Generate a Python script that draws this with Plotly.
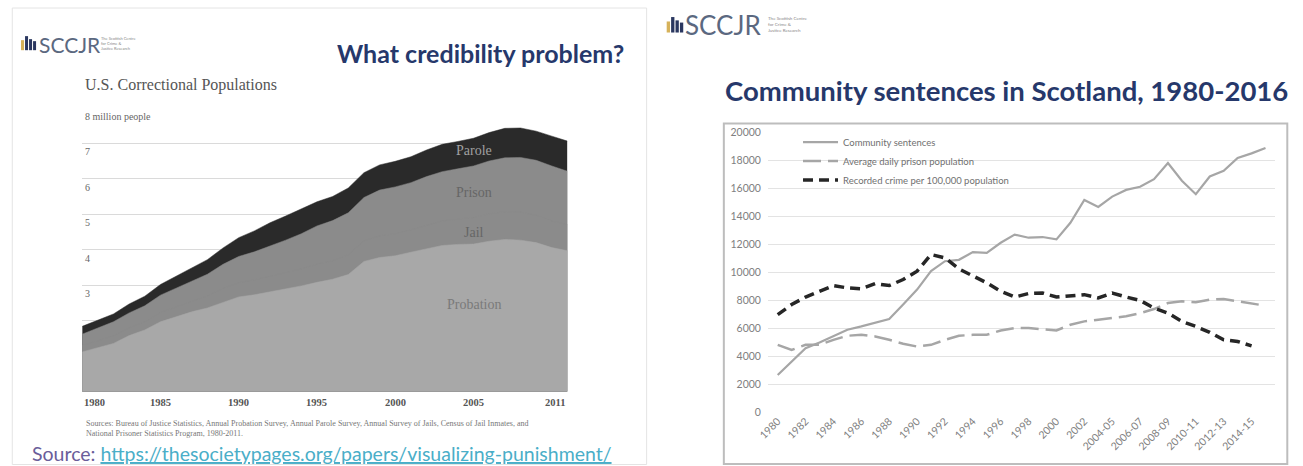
import plotly.graph_objects as go

W, H = 1303, 466
# map reference-image pixel positions to paper fractions (calibrated against the rendered page)
def px(x): return ((x - 12) / 0.989) / W
def py(y): return 1 - ((y - 6) / 0.97) / H

# ---------------- Left chart data (millions) ----------------
years = list(range(1980, 2012))
probation = [1.12, 1.23, 1.36, 1.58, 1.74, 1.97, 2.12, 2.25, 2.36, 2.52, 2.67, 2.73, 2.81, 2.90, 2.98, 3.08,
             3.17, 3.30, 3.67, 3.78, 3.83, 3.93, 4.02, 4.12, 4.15, 4.16, 4.24, 4.29, 4.27, 4.20, 4.06, 3.97]
jail = [0.18, 0.20, 0.21, 0.22, 0.23, 0.26, 0.27, 0.30, 0.34, 0.39, 0.40, 0.42, 0.44, 0.46, 0.48, 0.51,
        0.52, 0.56, 0.58, 0.61, 0.62, 0.63, 0.67, 0.69, 0.71, 0.75, 0.77, 0.78, 0.79, 0.77, 0.75, 0.74]
prison = [0.32, 0.36, 0.40, 0.42, 0.45, 0.49, 0.53, 0.56, 0.61, 0.68, 0.74, 0.79, 0.85, 0.91, 0.99, 1.08,
          1.13, 1.18, 1.22, 1.29, 1.32, 1.33, 1.37, 1.39, 1.42, 1.45, 1.49, 1.52, 1.54, 1.55, 1.55, 1.50]
parole = [0.22, 0.23, 0.22, 0.25, 0.27, 0.30, 0.33, 0.36, 0.41, 0.46, 0.53, 0.59, 0.66, 0.68, 0.69, 0.68,
          0.68, 0.70, 0.70, 0.71, 0.72, 0.73, 0.75, 0.77, 0.77, 0.78, 0.80, 0.83, 0.83, 0.82, 0.84, 0.85]
left_xticks = [1980, 1985, 1990, 1995, 2000, 2005, 2011]
left_ytick_vals = [8, 7, 6, 5, 4, 3]
left_ytick_text = ["8 million people", "7", "6", "5", "4", "3"]
area_names = ["Probation", "Jail", "Prison", "Parole"]
area_label_pos = [(2005, 2.45), (2005, 4.48), (2005, 5.62), (2005, 6.8)]

# ---------------- Right chart data ----------------
categories = [str(y) for y in range(1980, 2004)] + [f"{y}-{str(y + 1)[2:]}" for y in range(2004, 2016)]
community = [2670, 3620, 4580, 4990, 5470, 5900, 6140, 6380, 6670, 7700, 8770, 10090, 10800, 10900,
             11450, 11400, 12120, 12700, 12480, 12530, 12360, 13550, 15180, 14680, 15420, 15900, 16120,
             16670, 17820, 16550, 15590, 16860, 17270, 18180, 18510, 18900]
prison_pop = [4820, 4460, 4820, 4820, 5180, 5470, 5540, 5420, 5180, 4900, 4700, 4820, 5180, 5470,
              5540, 5540, 5850, 6020, 6020, 5950, 5850, 6260, 6500, 6620, 6730, 6860, 7090, 7380,
              7810, 7930, 7860, 8050, 8100, 7930, 7770, 7620]
crime = [6980, 7700, 8240, 8650, 9060, 8890, 8820, 9200, 9060, 9490, 10090, 11280, 11040, 10250,
         9730, 9250, 8650, 8240, 8490, 8530, 8240, 8340, 8410, 8170, 8530, 8240, 8000, 7450, 7090,
         6500, 6140, 5710, 5180, 5060, 4750, None]
series_names = ["Community sentences", "Average daily prison population",
                "Recorded crime per 100,000 population"]
right_tick_idx = list(range(0, 35, 2))

fig = go.Figure()

# stacked areas: cumulative tops, drawn top-most first so each lower layer covers the one above
layers = [probation, jail, prison, parole]
cum = []
run = [0.0] * len(years)
for vals in layers:
    run = [a + b for a, b in zip(run, vals)]
    cum.append(run)
area_colors = ["rgb(168,168,168)", "rgb(139,139,139)", "rgb(139,139,139)", "rgb(42,42,42)"]
for name, tops, col in reversed(list(zip(area_names, cum, area_colors))):
    fig.add_trace(go.Scatter(x=years, y=tops, name=name, fill="tozeroy", mode="lines",
                             line=dict(width=0.5, color=col), fillcolor=col, showlegend=False,
                             xaxis="x", yaxis="y"))

idx = list(range(len(categories)))
fig.add_trace(go.Scatter(x=idx, y=community, name=series_names[0], mode="lines",
                         line=dict(color="#a6a6a6", width=2.2), xaxis="x2", yaxis="y2"))
fig.add_trace(go.Scatter(x=idx, y=prison_pop, name=series_names[1], mode="lines",
                         line=dict(color="#a6a6a6", width=2.5, dash="18px,7px"), xaxis="x2", yaxis="y2"))
fig.add_trace(go.Scatter(x=idx, y=crime, name=series_names[2], mode="lines",
                         line=dict(color="#262626", width=3.5, dash="10px,6px"), xaxis="x2", yaxis="y2"))

ann = []
SERIF = "Liberation Serif, Times New Roman, serif"
SANS = "Lato, Open Sans, sans-serif"
for v, t in zip(left_ytick_vals, left_ytick_text):
    ann.append(dict(x=1980, y=v, xref="x", yref="y", text=t, showarrow=False, xanchor="left",
                    yanchor="top", xshift=1, yshift=-1, font=dict(family=SERIF, size=10, color="#666")))
for yv in left_xticks:
    anchor = "left" if yv == left_xticks[0] else ("right" if yv == left_xticks[-1] else "center")
    ann.append(dict(x=yv, y=0, xref="x", yref="y", text=f"<b>{yv}</b>", showarrow=False, xanchor=anchor,
                    yanchor="top", yshift=-3, font=dict(family=SERIF, size=10.5, color="#555")))
label_cols = ["#7a7a7a", "#666", "#666", "#a0a0a0"]
for name, (xx, yy), c in zip(area_names, area_label_pos, label_cols):
    ann.append(dict(x=xx, y=yy, xref="x", yref="y", text=name, showarrow=False,
                    font=dict(family=SERIF, size=14, color=c)))

ann += [
    dict(x=px(84), y=py(85), xref="paper", yref="paper", text="U.S. Correctional Populations",
         showarrow=False, xanchor="left", yanchor="middle", font=dict(family=SERIF, size=16, color="#555")),
    dict(x=px(625), y=py(53), xref="paper", yref="paper", text="<b>What credibility problem?</b>",
         showarrow=False, xanchor="right", yanchor="middle", font=dict(family=SANS, size=25, color="#26386b")),
    dict(x=px(85), y=py(427), xref="paper", yref="paper", align="left",
         text="Sources: Bureau of Justice Statistics, Annual Probation Survey, Annual Parole Survey, Annual Survey of Jails, Census of Jail Inmates, and<br>National Prisoner Statistics Program, 1980-2011.",
         showarrow=False, xanchor="left", yanchor="middle", font=dict(family=SERIF, size=8, color="#777")),
    dict(x=px(31), y=py(452), xref="paper", yref="paper",
         text="<span style='color:#6a5d9a'>Source: </span><span style='color:#4aaec8'><u>https://thesocietypages.org/papers/visualizing-punishment/</u></span>",
         showarrow=False, xanchor="left", yanchor="middle", font=dict(family=SANS, size=19.5)),
    dict(x=px(722), y=py(90), xref="paper", yref="paper", text="<b>Community sentences in Scotland, 1980-2016</b>",
         showarrow=False, xanchor="left", yanchor="middle", font=dict(family=SANS, size=27.5, color="#26386b")),
    dict(x=px(38), y=py(44), xref="paper", yref="paper", text="SCCJR", showarrow=False, xanchor="left",
         yanchor="middle", font=dict(family=SANS, size=21, color="#5b6880")),
    dict(x=px(100), y=py(43), xref="paper", yref="paper",
         text="The Scottish Centre<br>for Crime &<br>Justice Research", align="left", showarrow=False,
         xanchor="left", yanchor="middle", font=dict(family=SANS, size=4, color="#888")),
    dict(x=px(682), y=py(25), xref="paper", yref="paper", text="SCCJR", showarrow=False, xanchor="left",
         yanchor="middle", font=dict(family=SANS, size=26, color="#5b6880")),
    dict(x=px(765), y=py(24), xref="paper", yref="paper",
         text="The Scottish Centre<br>for Crime &<br>Justice Research", align="left", showarrow=False,
         xanchor="left", yanchor="middle", font=dict(family=SANS, size=4.5, color="#888")),
]

shapes = [
    dict(type="rect", xref="paper", yref="paper", x0=0.001, x1=px(646), y0=-0.01, y1=py(8),
         line=dict(color="#e4e4e4", width=1), layer="below"),
    dict(type="rect", xref="paper", yref="paper", x0=px(723), x1=px(1285), y0=py(462), y1=py(123),
         line=dict(color="#bdbdbd", width=2), layer="below"),
]
def icon(x0, y0, s):
    out = []
    bars = [(0, 4, 3, "#d6b25a"), (4, 0, 3, "#2a3760"), (8, 3, 3, "#2a3760"), (12, 5, 3, "#2a3760")]
    for dx, dy, w, c in bars:
        out.append(dict(type="rect", xref="paper", yref="paper", x0=px(x0 + dx * s), x1=px(x0 + (dx + w) * s),
                        y0=py(y0 + 14 * s), y1=py(y0 + dy * s), line=dict(width=0), fillcolor=c))
    return out
shapes += icon(22, 36, 1.0) + icon(666, 17, 1.1)

fig.update_layout(
    width=W, height=H, margin=dict(l=0, r=0, t=0, b=0), paper_bgcolor="white", plot_bgcolor="rgba(0,0,0,0)",
    annotations=ann, shapes=shapes,
    xaxis=dict(domain=[px(83), px(567)], range=[1980, 2011], showgrid=False, showticklabels=False,
               zeroline=False, showline=False, ticks=""),
    yaxis=dict(domain=[py(390), py(107.3)], range=[0, 8], dtick=1, showgrid=True, gridcolor="#dadada",
               gridwidth=1, showticklabels=False, zeroline=False, showline=False, ticks=""),
    xaxis2=dict(domain=[px(767), px(1273)], range=[-0.7, 35.7], anchor="y2", tickmode="array",
                tickvals=right_tick_idx, ticktext=[categories[i] for i in right_tick_idx], tickangle=-45,
                tickfont=dict(family=SANS, size=10.5, color="#808080"), showgrid=False, zeroline=False,
                showline=False, ticks=""),
    yaxis2=dict(domain=[py(410.5), py(132)], range=[0, 20000], dtick=2000, anchor="x2", showgrid=True,
                gridcolor="#e3e3e3", zeroline=False, showline=False, ticks="", tickformat="d",
                tickfont=dict(family=SANS, size=10.5, color="#808080"), ticklabelstandoff=6),
    showlegend=True,
    legend=dict(x=px(797), y=py(127), xanchor="left", yanchor="top", bgcolor="rgba(0,0,0,0)",
                traceorder="normal", font=dict(family=SANS, size=9.5, color="#707070"), itemwidth=35),
)

fig.write_html("out.html", config={"displayModeBar": False},
               post_script="document.body.style.margin='0px';document.body.style.overflow='hidden';document.documentElement.style.overflow='hidden';")
